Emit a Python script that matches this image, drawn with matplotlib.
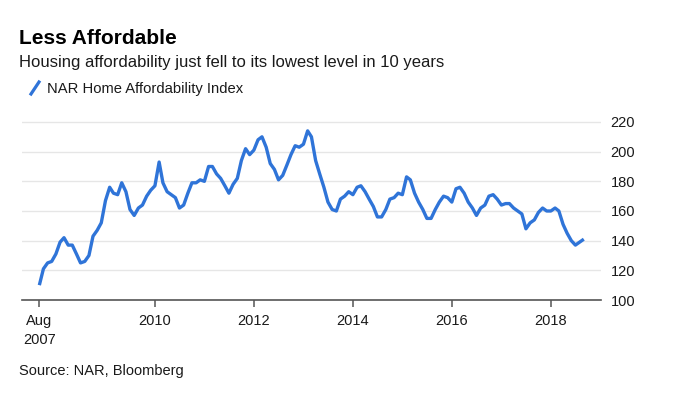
import numpy as np
import pandas as pd
import matplotlib
matplotlib.use('Agg')
import matplotlib.pyplot as plt
from matplotlib.lines import Line2D

plt.rcParams['font.family'] = ['Liberation Sans', 'DejaVu Sans']

# NAR Home Affordability Index, monthly, Aug 2007 - Aug 2018
affordability = [
    110, 121, 125, 126, 131, 139, 142, 137, 137, 131, 125, 126,
    130, 143, 147, 152, 167, 176, 172, 171, 179, 173, 161, 157,
    162, 164, 170, 174, 177, 193, 179, 173, 171, 169, 162, 164,
    172, 179, 179, 181, 180, 190, 190, 185, 182, 177, 172, 178,
    182, 194, 202, 198, 201, 208, 210, 203, 192, 188, 181, 184,
    191, 198, 204, 203, 205, 214, 210, 194, 185, 176, 166, 161,
    160, 168, 170, 173, 171, 176, 177, 173, 168, 163, 156, 156,
    161, 168, 169, 172, 171, 183, 181, 172, 166, 161, 155, 155,
    161, 166, 170, 169, 166, 175, 176, 172, 166, 162, 157, 162,
    164, 170, 171, 168, 164, 165, 165, 162, 160, 158, 148, 152,
    154, 159, 162, 160, 160, 162, 160, 151, 145, 140, 137, 139,
    141,
]
dates = pd.date_range('2007-08-31', periods=len(affordability), freq='ME')

tick_dates = pd.to_datetime(['2007-08-31', '2010-01-01', '2012-01-01',
                             '2014-01-01', '2016-01-01', '2018-01-01'])
tick_labels = ['Aug\n2007', '2010', '2012', '2014', '2016', '2018']
y_ticks = [100, 120, 140, 160, 180, 200, 220]

blue = '#2f74d8'
W, H = 679, 396

fig = plt.figure(figsize=(W / 100, H / 100), dpi=100)
ax = fig.add_axes([22 / W, 1 - 300 / H, (601 - 22) / W, (300 - 120.5) / H])

ax.plot(dates, affordability, color=blue, lw=2.4, solid_joinstyle='round',
        solid_capstyle='butt', zorder=3)

ax.set_ylim(100, 221)
ax.set_xlim(pd.Timestamp('2007-04-25'), pd.Timestamp('2019-01-05'))

ax.yaxis.tick_right()
ax.set_yticks(y_ticks)
ax.tick_params(axis='y', length=0, pad=7, labelsize=10.5, labelcolor='#1a1a1a')
ax.grid(axis='y', color='#e6e6e6', lw=1)
ax.set_axisbelow(True)

for side in ['top', 'left', 'right']:
    ax.spines[side].set_visible(False)
ax.spines['bottom'].set_color('#555555')
ax.spines['bottom'].set_linewidth(1.2)

ax.set_xticks(tick_dates, tick_labels)
ax.tick_params(axis='x', length=5, width=1.1, color='#555555', pad=5,
               labelsize=10.5, labelcolor='#1a1a1a')
for lbl in ax.get_xticklabels():
    lbl.set_linespacing(1.45)
    lbl.set_multialignment('center')

fig.text(19 / W, 1 - 44 / H, 'Less Affordable', fontsize=15, fontweight='bold',
         va='baseline', color='#000000')
fig.text(19 / W, 1 - 67 / H,
         'Housing affordability just fell to its lowest level in 10 years',
         fontsize=12, va='baseline', color='#1a1a1a')
fig.add_artist(Line2D([31 / W, 39 / W], [1 - 94 / H, 1 - 82 / H],
                      transform=fig.transFigure, color=blue, lw=2.3))
fig.text(47 / W, 1 - 93 / H, 'NAR Home Affordability Index', fontsize=10.6,
         va='baseline', color='#1a1a1a')
fig.text(19 / W, 1 - 375 / H, 'Source: NAR, Bloomberg', fontsize=10.5,
         va='baseline', color='#1a1a1a')

fig.savefig('out.png', dpi=100, facecolor='white')
